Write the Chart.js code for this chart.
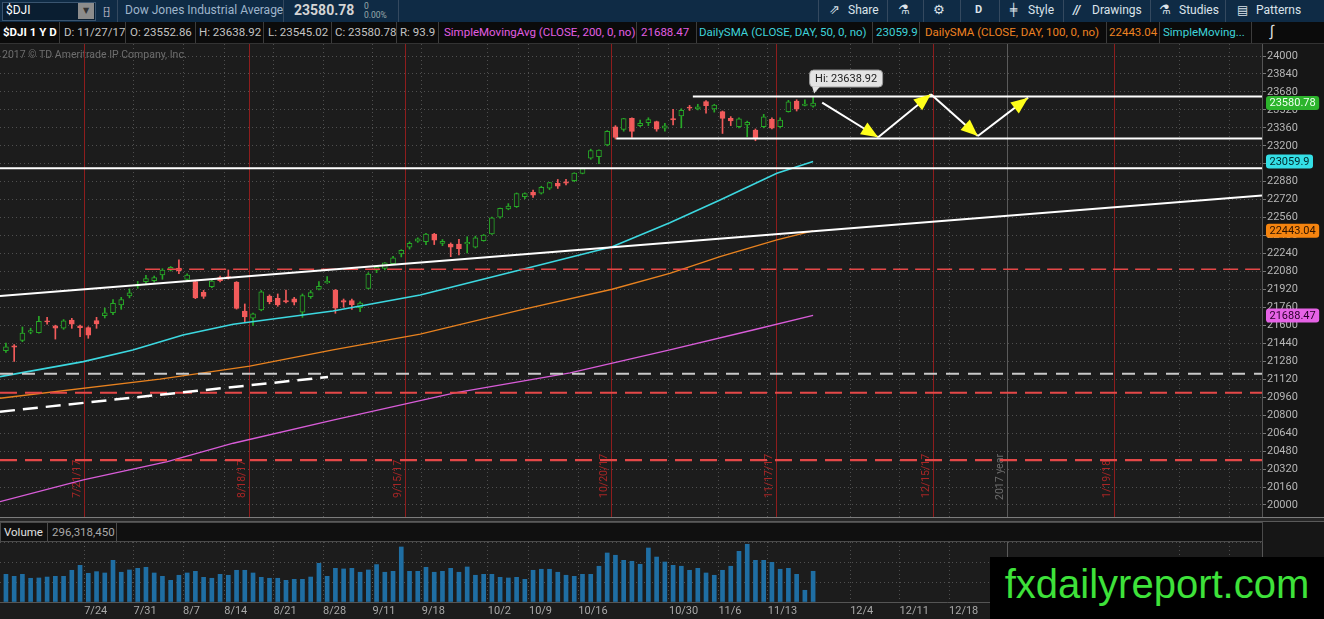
<!DOCTYPE html>
<html>
<head>
<meta charset="utf-8">
<title>$DJI 1 Y D</title>
<script src="https://cdn.jsdelivr.net/npm/chart.js@4.4.1/dist/chart.umd.min.js"></script>
<style>
  html, body { margin: 0; padding: 0; }
  body { width: 1324px; height: 619px; overflow: hidden; position: relative; background: #1c1c1c;
         font-family: Roboto, 'Noto Sans', 'DejaVu Sans', sans-serif; }
  .abs { position: absolute; white-space: nowrap; }
  .sep { position: absolute; top: 0; width: 1px; height: 22px; background: #34495f; }
  #toolbar { left: 0; top: 0; width: 1324px; height: 22px; background: #0f2b45; color: #dce3ea; font-size: 12px; }
  #toolbar .t { position: absolute; top: 3px; white-space: nowrap; }
  #studybar { left: 0; top: 22px; width: 1324px; height: 22px; background: #0b0b0b; font-size: 11.5px; color: #c4c4c4;
              border-bottom: 1px solid #333; box-sizing: border-box; }
  #studybar .t { position: absolute; top: 3px; white-space: nowrap; }
  #studybar .sep { background: #3c3c3c; height: 21px; }
  #axisbg { left: 1262px; top: 44px; width: 62px; height: 575px; background: #161616; }
  #priceWrap { left: 0; top: 44px; width: 1324px; height: 474px; }
  #panelSep { left: 0; top: 517px; width: 1324px; height: 5px; background: #262626;
              border-top: 1px solid #7c7c7c; border-bottom: 1px solid #5a5a5a; box-sizing: border-box; }
  #volHead { left: 0; top: 522px; width: 1263px; height: 20px; background: #101010; border: 1px solid #4a4a4a;
             box-sizing: border-box; font-size: 11.5px; }
  #volWrap { left: 0; top: 542px; width: 1324px; height: 77px; }
  #fx { left: 990px; top: 557px; width: 334px; height: 62px; background: #000; color: #3ee23a;
        font-family: 'Liberation Sans', Arial, sans-serif; font-size: 40px; line-height: 54px; text-align: center; }
</style>
</head>
<body>

<div id="toolbar" class="abs">
  <div class="abs" style="left:2px;top:2px;width:92px;height:17px;background:#0a1e31;border:1px solid #3a5570;"></div>
  <span class="t" style="left:6px;color:#fff;">$DJI</span>
  <div class="abs" style="left:78px;top:3px;width:16px;height:16px;background:#8c8c8c;color:#333;font-size:8px;line-height:16px;text-align:center;">▼</div>
  <span class="t" style="left:103px;color:#aab;font-size:11px;">⁅⁆</span>
  <i class="sep" style="left:117px"></i>
  <span class="t" style="left:125px;color:#9fb5cb;">Dow Jones Industrial Average</span>
  <i class="sep" style="left:283px"></i>
  <span class="t" style="left:294px;top:2px;color:#d4d4d4;font-size:14px;font-weight:bold;">23580.78</span>
  <span class="t" style="left:364px;top:1px;color:#9aa;font-size:8.5px;">0</span>
  <span class="t" style="left:364px;top:10px;color:#9aa;font-size:8.5px;">0.00%</span>
  <i class="sep" style="left:398px"></i>

  <i class="sep" style="left:818px"></i>
  <span class="t" style="left:829px;top:2px;font-size:13px;">⇗</span>
  <span class="t" style="left:848px;">Share</span>
  <i class="sep" style="left:887px"></i>
  <span class="t" style="left:898px;top:2px;font-size:13px;">⚗</span>
  <i class="sep" style="left:923px"></i>
  <span class="t" style="left:933px;top:2px;font-size:13px;">⚙</span>
  <i class="sep" style="left:960px"></i>
  <span class="t" style="left:975px;font-weight:bold;font-size:11px;">D</span>
  <i class="sep" style="left:999px"></i>
  <span class="t" style="left:1010px;">╪</span>
  <span class="t" style="left:1028px;">Style</span>
  <i class="sep" style="left:1063px"></i>
  <span class="t" style="left:1073px;font-style:italic;font-weight:bold;">//</span>
  <span class="t" style="left:1092px;">Drawings</span>
  <i class="sep" style="left:1150px"></i>
  <span class="t" style="left:1159px;top:2px;font-size:13px;">⚗</span>
  <span class="t" style="left:1179px;">Studies</span>
  <i class="sep" style="left:1225px"></i>
  <span class="t" style="left:1237px;">▤</span>
  <span class="t" style="left:1256px;">Patterns</span>
</div>

<div id="studybar" class="abs">
  <span class="t" style="left:3px;color:#fff;font-weight:bold;">$DJI 1 Y D</span>
  <i class="sep" style="left:59px"></i>
  <span class="t" style="left:64px;">D: 11/27/17</span>
  <i class="sep" style="left:125px"></i>
  <span class="t" style="left:130px;">O: 23552.86</span>
  <i class="sep" style="left:195px"></i>
  <span class="t" style="left:199px;">H: 23638.92</span>
  <i class="sep" style="left:263px"></i>
  <span class="t" style="left:268px;">L: 23545.02</span>
  <i class="sep" style="left:331px"></i>
  <span class="t" style="left:335px;">C: 23580.78</span>
  <i class="sep" style="left:396px"></i>
  <span class="t" style="left:400px;">R: 93.9</span>
  <i class="sep" style="left:438px"></i>
  <span class="t" style="left:444px;color:#e25ee2;">SimpleMovingAvg (CLOSE, 200, 0, no)</span>
  <i class="sep" style="left:636px"></i>
  <span class="t" style="left:641px;color:#e25ee2;">21688.47</span>
  <i class="sep" style="left:696px"></i>
  <span class="t" style="left:699px;color:#3fd3da;">DailySMA (CLOSE, DAY, 50, 0, no)</span>
  <i class="sep" style="left:872px"></i>
  <span class="t" style="left:876px;color:#3fd3da;">23059.9</span>
  <i class="sep" style="left:919px"></i>
  <span class="t" style="left:925px;color:#ee8222;">DailySMA (CLOSE, DAY, 100, 0, no)</span>
  <i class="sep" style="left:1106px"></i>
  <span class="t" style="left:1109px;color:#ee8222;">22443.04</span>
  <i class="sep" style="left:1159px"></i>
  <span class="t" style="left:1163px;color:#3fd3da;">SimpleMoving...</span>
  <i class="sep" style="left:1251px"></i>
  <span class="t" style="left:1270px;top:0px;color:#ddd;font-size:15px;">∫</span>
</div>

<div id="axisbg" class="abs"></div>
<div id="priceWrap" class="abs"><canvas id="priceChart"></canvas></div>
<div id="panelSep" class="abs"></div>
<div id="volHead" class="abs">
  <span class="abs" style="left:3px;top:2px;color:#e0e0e0;">Volume</span>
  <i class="abs" style="left:46px;top:0;width:1px;height:18px;background:#4a4a4a;"></i>
  <span class="abs" style="left:51px;top:2px;color:#a8a8a8;">296,318,450</span>
  <i class="abs" style="left:115px;top:0;width:1px;height:18px;background:#4a4a4a;"></i>
</div>
<div id="volWrap" class="abs"><canvas id="volChart"></canvas></div>
<div id="fx" class="abs">fxdailyreport.com</div>

<script>
// ---------- data ----------
function tradingDays(start, count, holidays) {
    const out = [];
    const d = new Date(start + 'T12:00:00Z');
    while (out.length < count) {
        const iso = d.toISOString().slice(0, 10);
        const wd = d.getUTCDay();
        if (wd !== 0 && wd !== 6 && !holidays.includes(iso)) {
            out.push((d.getUTCMonth() + 1) + '/' + d.getUTCDate() + '/' + String(d.getUTCFullYear()).slice(2));
        }
        d.setUTCDate(d.getUTCDate() + 1);
    }
    return out;
}
const barDates = tradingDays('2017-07-10', 99, ['2017-09-04', '2017-11-23']);

const openP = [21375, 21418, 21465, 21540, 21535, 21640, 21595, 21575, 21648, 21595,
    21580, 21642, 21686, 21713, 21782, 21862, 21950, 21990, 21998, 22049,
    22093, 22110, 22010, 21990, 21895, 21945, 22026, 22035, 21985, 21728,
    21664, 21737, 21862, 21842, 21822, 21836, 21717, 21856, 21922, 21980,
    21914, 21820, 21820, 21758, 21930, 22093, 22108, 22150, 22236, 22296,
    22350, 22346, 22414, 22330, 22325, 22325, 22325, 22296, 22355, 22414,
    22565, 22637, 22657, 22747, 22786, 22777, 22822, 22866, 22880, 22889,
    22955, 23089, 23104, 23207, 23370, 23347, 23444, 23379, 23406, 23415,
    23356, 23442, 23466, 23545, 23528, 23593, 23528, 23504, 23444, 23370,
    23385, 23340, 23370, 23436, 23370, 23504, 23599, 23560, 23552.86];
const highP = [21443, 21430, 21586, 21575, 21681, 21672, 21602, 21652, 21663, 21602,
    21588, 21672, 21755, 21830, 21850, 21925, 21992, 22045, 22040, 22105,
    22125, 22183, 22060, 22000, 21912, 22005, 22040, 22094, 21990, 21791,
    21710, 21910, 21872, 21880, 21915, 21850, 21880, 21910, 21990, 22034,
    21920, 21835, 21835, 21810, 22070, 22130, 22160, 22215, 22275, 22345,
    22380, 22420, 22420, 22365, 22335, 22367, 22390, 22395, 22410, 22565,
    22645, 22685, 22780, 22780, 22805, 22840, 22875, 22900, 22902, 22960,
    23002, 23170, 23165, 23335, 23380, 23445, 23450, 23430, 23450, 23420,
    23400, 23525, 23530, 23560, 23570, 23602, 23570, 23510, 23460, 23450,
    23420, 23350, 23480, 23450, 23450, 23605, 23610, 23610, 23638.92];
const lowP = [21360, 21280, 21455, 21525, 21530, 21612, 21478, 21565, 21574, 21500,
    21485, 21574, 21666, 21695, 21743, 21845, 21930, 21962, 21985, 22011,
    22085, 22060, 21990, 21838, 21840, 21935, 21988, 22012, 21745, 21633,
    21600, 21730, 21792, 21770, 21800, 21782, 21672, 21840, 21915, 21975,
    21708, 21762, 21742, 21722, 21925, 22070, 22095, 22140, 22210, 22280,
    22340, 22320, 22320, 22310, 22212, 22227, 22245, 22290, 22350, 22410,
    22555, 22630, 22650, 22730, 22740, 22770, 22810, 22820, 22851, 22880,
    22950, 23080, 23040, 23200, 23260, 23330, 23275, 23370, 23380, 23330,
    23330, 23385, 23360, 23515, 23520, 23490, 23500, 23310, 23380, 23360,
    23280, 23245, 23360, 23350, 23360, 23500, 23510, 23555, 23545.02];
const closeP = [21408, 21406, 21532, 21553, 21637, 21630, 21575, 21641, 21612, 21580,
    21513, 21613, 21711, 21797, 21830, 21891, 21964, 22016, 22026, 22093,
    22118, 22085, 22049, 21844, 21858, 21994, 21999, 22023, 21751, 21675,
    21704, 21900, 21812, 21783, 21810, 21808, 21865, 21892, 21948, 21992,
    21753, 21808, 21785, 21798, 22057, 22119, 22158, 22203, 22268, 22331,
    22371, 22413, 22359, 22350, 22296, 22284, 22341, 22381, 22405, 22558,
    22642, 22662, 22775, 22774, 22761, 22831, 22873, 22841, 22868, 22957,
    22997, 23158, 23163, 23329, 23274, 23442, 23329, 23401, 23434, 23349,
    23377, 23430, 23516, 23535, 23548, 23557, 23563, 23445, 23422, 23440,
    23409, 23271, 23458, 23358, 23430, 23591, 23526, 23572, 23580.78];
// volume, millions of shares
const volumeM = [267, 248, 267, 229, 232, 241, 248, 248, 306, 354,
    277, 293, 280, 402, 287, 309, 325, 335, 280, 248,
    209, 258, 280, 296, 238, 229, 267, 258, 306, 306,
    280, 238, 229, 229, 209, 219, 219, 241, 373, 248,
    325, 319, 325, 287, 309, 361, 287, 296, 531, 296,
    296, 335, 287, 296, 325, 287, 338, 258, 267, 267,
    238, 232, 238, 219, 306, 316, 316, 287, 258, 248,
    267, 267, 345, 473, 451, 402, 393, 364, 521, 434,
    386, 354, 345, 306, 325, 280, 258, 306, 345, 489,
    557, 402, 402, 383, 316, 325, 267, 113, 296.318450];

// moving averages, vertices [bar index, value]
const sma200 = [[-0.72, 20029], [9.4, 20223], [19.6, 20386], [27.6, 20550], [39.7, 20757],
    [54.5, 20998], [68.5, 21176], [80.6, 21381], [90.7, 21559], [98, 21688.47]];
const sma50 = [[-0.72, 21143], [9.4, 21277], [15.4, 21381], [21.5, 21514], [27.6, 21610],
    [39.7, 21728], [50.3, 21871], [62.4, 22094], [73.6, 22301], [80.6, 22515],
    [86.7, 22717], [93.6, 22955], [98, 23059.9]];
const sma100 = [[-0.72, 20951], [18.7, 21122], [29.6, 21238], [39.7, 21381], [50.3, 21523],
    [62.4, 21737], [73.6, 21922], [80.6, 22064], [86.7, 22212], [93.6, 22361], [98, 22443.04]];

// hand drawings
const X_MIN = -0.72, X_MAX = 152.5;
const trendSolid = [[X_MIN, 21862], [X_MAX, 22757]];
const trendDashed = [[X_MIN, 20831], [39.1, 21140]];
const whiteLevels = [23638.92, 23265, 23000];
const whiteLevelFrom = [83.4, 74.1, X_MIN];
const redLevels = [22100, 21000, 20400];
const redLevelFrom = [16.9, X_MIN, X_MIN];
const grayLevel = 21170;
const arrowPath = [[99.1, 23584], [105.9, 23276], [112.3, 23660], [118.0, 23287], [124.1, 23629]];

// option expiration markers and year marker (bar index of the day's right edge)
const expiryIdx = [9.5, 29.5, 48.5, 73.5, 93.5, 112.5, 134.5];
const expiryLabels = ['7/21/17', '8/18/17', '9/15/17', '10/20/17', '11/17/17', '12/15/17', '1/19/18'];
const yearIdx = 121.5;

// time axis ticks
const weekTickIdx = [9.5, 15.5, 21.5, 26.5, 32.5, 38.5, 44.5, 50.5, 58.5, 63.5, 69.5,
    80.5, 86.5, 92.5, 102.5, 108.5, 114.5, 142.5, 148.5];
const weekTickLabels = ['7/24', '7/31', '8/7', '8/14', '8/21', '8/28', '9/11', '9/18', '10/2', '10/9', '10/16',
    '10/30', '11/6', '11/13', '12/4', '12/11', '12/18', '', ''];

// price tags on the right axis
const tagValues = [closeP[closeP.length - 1], 23059.9, 22443.04, 21688.47];
const tagLabels = ['23580.78', '23059.9', '22443.04', '21688.47'];

// ---------- styles ----------
const BG = '#1c1c1c';
const UP = '#27a827';
const DOWN = '#f25b5b';
const GRID = 'rgba(150,150,150,0.42)';
const FONT = 'Roboto, "Noto Sans", sans-serif';
const tagFill = ['#2cb42c', '#34dfe6', '#f5840f', '#e562e5'];
const tagInk = ['#effff0', '#00282a', '#2b1200', '#2a002a'];

const isUp = closeP.map((c, i) => c >= openP[i]);

function seg(points, color, width, dash, order) {
    return {
        type: 'line',
        data: points.map(([x, y]) => ({ x, y })),
        borderColor: color,
        borderWidth: width,
        borderDash: dash,
        pointRadius: 0,
        fill: false,
        tension: 0,
        order,
    };
}

function vLine(ctx, px, top, bottom, color) {
    ctx.strokeStyle = color;
    ctx.lineWidth = 1;
    ctx.beginPath();
    ctx.moveTo(px, top);
    ctx.lineTo(px, bottom);
    ctx.stroke();
}

function vText(ctx, s, px, py, color) {
    ctx.save();
    ctx.translate(px, py);
    ctx.rotate(-Math.PI / 2);
    ctx.font = '10.5px ' + FONT;
    ctx.fillStyle = color;
    ctx.textAlign = 'left';
    ctx.textBaseline = 'bottom';
    ctx.fillText(s, 0, 0);
    ctx.restore();
}

function drawArrow(ctx, x1, y1, x2, y2) {
    ctx.strokeStyle = '#ffffff';
    ctx.lineWidth = 2;
    ctx.beginPath();
    ctx.moveTo(x1, y1);
    ctx.lineTo(x2, y2);
    ctx.stroke();
    const a = Math.atan2(y2 - y1, x2 - x1);
    const len = 17, half = 7;
    const bx = x2 - len * Math.cos(a), by = y2 - len * Math.sin(a);
    ctx.fillStyle = '#ffff1a';
    ctx.beginPath();
    ctx.moveTo(x2, y2);
    ctx.lineTo(bx + half * Math.sin(a), by - half * Math.cos(a));
    ctx.lineTo(bx - half * Math.sin(a), by + half * Math.cos(a));
    ctx.closePath();
    ctx.fill();
}

function roundRect(ctx, x, y, w, h, r) {
    ctx.beginPath();
    ctx.moveTo(x + r, y);
    ctx.arcTo(x + w, y, x + w, y + h, r);
    ctx.arcTo(x + w, y + h, x, y + h, r);
    ctx.arcTo(x, y + h, x, y, r);
    ctx.arcTo(x, y, x + w, y, r);
    ctx.closePath();
}

const priceDecor = {
    id: 'priceDecor',
    beforeDatasetsDraw(chart) {
        const { ctx, chartArea: a, scales: { x } } = chart;
        ctx.save();
        ctx.font = '10.5px ' + FONT;
        ctx.fillStyle = '#6e6e6e';
        ctx.textBaseline = 'middle';
        ctx.fillText('2017 © TD Ameritrade IP Company, Inc.', 2, a.top + 11);
        expiryIdx.forEach((v, k) => {
            const px = Math.round(x.getPixelForValue(v)) + 0.5;
            vLine(ctx, px, a.top, a.bottom, '#8e1d1d');
            vText(ctx, expiryLabels[k], px - 2, a.top + 454, '#a82626');
        });
        const yx = Math.round(x.getPixelForValue(yearIdx)) + 0.5;
        vLine(ctx, yx, a.top, a.bottom, '#5a5a5a');
        vText(ctx, '2017 year', yx - 2, a.top + 456, '#6c6c6c');
        ctx.restore();
    },
    afterDatasetsDraw(chart) {
        const { ctx, scales: { x, y } } = chart;
        ctx.save();
        for (let k = 1; k < arrowPath.length; k++) {
            const [i1, v1] = arrowPath[k - 1];
            const [i2, v2] = arrowPath[k];
            drawArrow(ctx, x.getPixelForValue(i1), y.getPixelForValue(v1),
                x.getPixelForValue(i2), y.getPixelForValue(v2));
        }
        // "Hi" bubble over the last bar
        const last = highP.length - 1;
        const hx = x.getPixelForValue(last);
        const hy = y.getPixelForValue(highP[last]);
        const bx = hx - 4, bw = 73, bh = 17, byy = hy - 27;
        ctx.fillStyle = '#e4e4e4';
        ctx.strokeStyle = '#9a9a9a';
        ctx.lineWidth = 1;
        roundRect(ctx, bx + 0.5, byy + 0.5, bw, bh, 4);
        ctx.fill();
        ctx.stroke();
        ctx.beginPath();
        ctx.moveTo(hx - 1, byy + bh);
        ctx.lineTo(hx + 7, byy + bh);
        ctx.lineTo(hx + 1, hy - 3);
        ctx.closePath();
        ctx.fill();
        ctx.fillStyle = '#202020';
        ctx.font = '11px ' + FONT;
        ctx.textAlign = 'center';
        ctx.textBaseline = 'middle';
        ctx.fillText('Hi: ' + highP[last].toFixed(2), bx + bw / 2 + 0.5, byy + bh / 2 + 1);
        ctx.restore();
    },
    afterDraw(chart) {
        const { ctx, chartArea: a, scales: { y } } = chart;
        ctx.save();
        ctx.font = '11px ' + FONT;
        ctx.textBaseline = 'middle';
        ctx.textAlign = 'left';
        tagValues.forEach((v, k) => {
            const py = y.getPixelForValue(v);
            const w = ctx.measureText(tagLabels[k]).width + 7;
            ctx.fillStyle = tagFill[k];
            roundRect(ctx, a.right + 4, py - 7, w, 14, 3);
            ctx.fill();
            ctx.fillStyle = tagInk[k];
            ctx.fillText(tagLabels[k], a.right + 7.5, py + 0.5);
        });
        ctx.restore();
    },
};

const volDecor = {
    id: 'volDecor',
    beforeDatasetsDraw(chart) {
        const { ctx, chartArea: a, scales: { x } } = chart;
        ctx.save();
        vLine(ctx, Math.round(x.getPixelForValue(yearIdx)) + 0.5, a.top, a.bottom, '#5a5a5a');
        ctx.restore();
    },
};

function timeAxis(withLabels) {
    return {
        type: 'linear',
        min: X_MIN,
        max: X_MAX,
        offset: false,
        afterBuildTicks: (s) => { s.ticks = weekTickIdx.map((v) => ({ value: v })); },
        afterFit: (s) => {
            s.height = withLabels ? 17 : 0;
            s.paddingLeft = 0;
            s.paddingRight = 0;
        },
        grid: { color: GRID, drawTicks: false, offset: false },
        border: { display: withLabels, color: '#555', dash: [1, 3] },
        ticks: {
            display: withLabels,
            autoSkip: false,
            maxRotation: 0,
            align: 'start',
            padding: 3,
            color: '#a8a8a8',
            font: { family: FONT, size: 11 },
            callback: (v, i) => weekTickLabels[i],
        },
    };
}

Chart.defaults.animation = false;

new Chart(document.getElementById('priceChart'), {
    type: 'bar',
    data: {
        datasets: [
            // hand drawn lines
            seg(trendSolid, '#ffffff', 2, [], 0),
            seg(trendDashed, '#ffffff', 2.5, [15, 8], 0),
            ...whiteLevels.map((v, k) => seg([[whiteLevelFrom[k], v], [X_MAX, v]], '#ffffff', 2, [], 0)),
            ...redLevels.map((v, k) => seg([[redLevelFrom[k], v], [X_MAX, v]], '#e54848', k === 0 ? 1.5 : 2.2, k === 0 ? [15, 7] : [17, 8], 0)),
            seg([[X_MIN, grayLevel], [X_MAX, grayLevel]], '#c9c9c9', 2, [13, 9], 0),
            // studies
            seg(sma50, '#3cd8e0', 1.6, [], 1),
            seg(sma100, '#e8821f', 1.3, [], 1),
            seg(sma200, '#d85cd8', 1.3, [], 1),
            // candles: wicks, then bodies
            {
                type: 'bar',
                data: openP.map((o, i) => ({ x: i, y: [lowP[i], highP[i]] })),
                backgroundColor: isUp.map((u) => (u ? UP : DOWN)),
                barThickness: 1,
                grouped: false,
                order: 4,
            },
            {
                type: 'bar',
                data: openP.map((o, i) => ({ x: i, y: [o, closeP[i]] })),
                backgroundColor: isUp.map((u) => (u ? BG : DOWN)),
                borderColor: isUp.map((u) => (u ? UP : DOWN)),
                borderWidth: 1,
                borderSkipped: false,
                barThickness: 5,
                grouped: false,
                order: 3,
            },
        ],
    },
    options: {
        responsive: true,
        maintainAspectRatio: false,
        layout: { padding: 0 },
        events: [],
        plugins: { legend: { display: false }, tooltip: { enabled: false } },
        scales: {
            x: timeAxis(false),
            y: {
                position: 'right',
                min: 19884,
                max: 24107,
                beginAtZero: false,
                afterFit: (s) => {
                    s.width = 62;
                    s.paddingTop = 0;
                    s.paddingBottom = 0;
                },
                grid: { color: GRID, tickColor: '#777', tickLength: 4 },
                border: { display: true, color: '#555', dash: [1, 3] },
                ticks: {
                    stepSize: 160,
                    includeBounds: false,
                    padding: 1,
                    color: '#b6b6b6',
                    font: { family: FONT, size: 11 },
                    callback: (v) => String(v),
                },
            },
        },
    },
    plugins: [priceDecor],
});

new Chart(document.getElementById('volChart'), {
    type: 'bar',
    data: {
        datasets: [{
            data: volumeM.map((v, i) => ({ x: i, y: v })),
            backgroundColor: '#1f6ea3',
            barThickness: 4,
        }],
    },
    options: {
        responsive: true,
        maintainAspectRatio: false,
        layout: { padding: 0 },
        events: [],
        plugins: { legend: { display: false }, tooltip: { enabled: false } },
        scales: {
            x: timeAxis(true),
            y: {
                position: 'right',
                min: 0,
                max: 579,
                afterFit: (s) => {
                    s.width = 62;
                    s.paddingTop = 0;
                    s.paddingBottom = 0;
                },
                grid: { color: GRID, drawTicks: false },
                border: { display: true, color: '#555', dash: [1, 3] },
                ticks: { display: false, stepSize: 200 },
            },
        },
    },
    plugins: [volDecor],
});
</script>
</body>
</html>
